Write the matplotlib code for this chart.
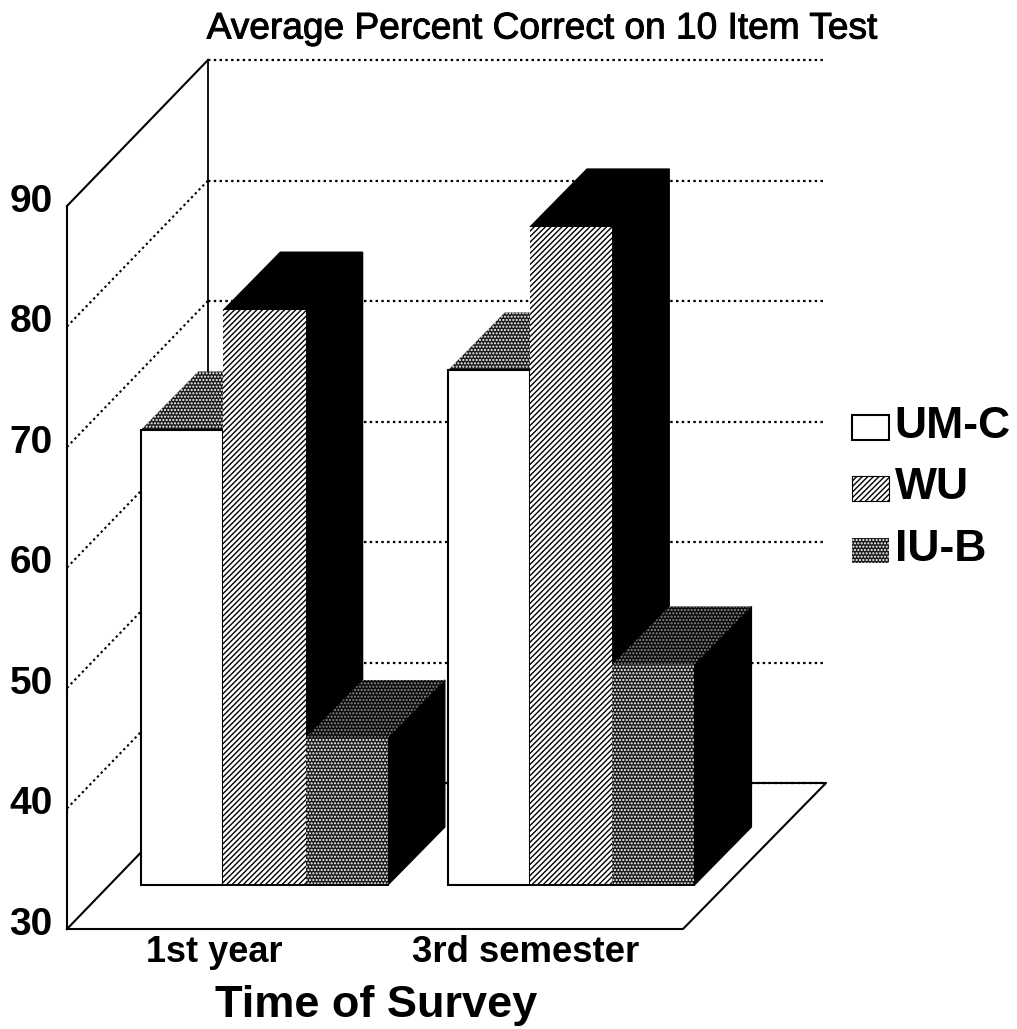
import matplotlib
matplotlib.use("Agg")
import matplotlib.pyplot as plt
from matplotlib.patches import Polygon, Patch, Rectangle
from matplotlib.legend_handler import HandlerPatch
import matplotlib.patheffects as pe

plt.rcParams['font.family'] = ['Liberation Sans', 'DejaVu Sans']
plt.rcParams['hatch.linewidth'] = 1.0

title = "Average Percent Correct on 10 Item Test"
xlabel = "Time of Survey"
categories = ["1st year", "3rd semester"]
series_names = ["UM-C", "WU", "IU-B"]
um_c = [67.8, 72.7]
wu = [77.7, 84.6]
iu_b = [42.2, 48.3]
y_ticks = [30, 40, 50, 60, 70, 80, 90]

# scales: 82.2 px per bar width, 12.05 px per percentage point
W, H = 1017, 1029
PX = 82.2
PY = 12.05
X0 = 264.5
YP0 = 929
fig = plt.figure(figsize=(W / 100, H / 100), dpi=100)
ax = fig.add_axes([0, 0, 1, 1])
ax.set_xlim(-X0 / PX, (W - X0) / PX)
ax.set_ylim(30 - (H - YP0) / PY, 30 + YP0 / PY)
ax.axis('off')

group_x = [0, 3.73]
bar_offset = [-1, 0, 1]

def xpx(px):
    return (px - X0) / PX

# depth of the box and of the bars, in data units
wall_x = xpx(67)
box_dx = 141 / PX
box_dy = 146 / PY
grid_end = xpx(824)
floor_right = xpx(683)
lift = 44 / PY
bar_dx = 57 / PX
bar_dy = 58 / PY

dot = (0, (1.1, 1.5))
for v in y_ticks:
    ls = '-' if v in (30, 90) else dot
    ax.plot([wall_x, wall_x + box_dx], [v, v + box_dy], color='k', lw=1.5, ls=ls, zorder=1)
    ax.plot([wall_x + box_dx, grid_end], [v + box_dy, v + box_dy], color='k', lw=1.6, ls=dot, zorder=1)
ax.plot([wall_x, wall_x], [30, 90], color='k', lw=1.5, zorder=1)
ax.plot([wall_x + box_dx, wall_x + box_dx], [30 + box_dy, 90 + box_dy], color='k', lw=1.3, zorder=1)
ax.plot([wall_x, floor_right, xpx(826), wall_x + box_dx],
        [30, 30, 30 + box_dy, 30 + box_dy], color='k', lw=1.5, zorder=1)

DOTS = dict(facecolor='#1c1c1c', edgecolor='white', linewidth=0, hatch='.....')
LINES = '//////'
front_style = [
    dict(facecolor='white', edgecolor='k', linewidth=1.5),
    dict(facecolor='white', edgecolor='k', linewidth=0, hatch=LINES),
    DOTS,
]
top_style = [
    DOTS,
    dict(facecolor='k', edgecolor='k', linewidth=1),
    dict(facecolor='#0a0a0a', edgecolor='#909090', linewidth=0, hatch='.....'),
]
z = 2
values = [um_c, wu, iu_b]
for g, gx in enumerate(group_x):
    for s in range(3):
        x = gx + bar_offset[s]
        l, r = x - 0.5, x + 0.5
        v = values[s][g]
        b = 30 + lift
        t = v + lift
        # side face
        ax.add_patch(Polygon([(r, b), (r + bar_dx, b + bar_dy), (r + bar_dx, t + bar_dy), (r, t)],
                             facecolor='k', edgecolor='k', lw=1, zorder=z))
        # top face
        ax.add_patch(Polygon([(l, t), (l + bar_dx, t + bar_dy), (r + bar_dx, t + bar_dy), (r, t)],
                             zorder=z + 1, **top_style[s]))
        # front face
        ax.bar(x, v - 30, width=1, bottom=b, align='center', zorder=z + 2, **front_style[s])
        if s == 0:
            ax.plot([l, l, r, r, l], [b, t, t, b, b], color='k', lw=1.4, zorder=z + 3)
        else:
            ax.plot([l, r], [b, b], color='k', lw=1.4, zorder=z + 3)
        z += 4

bold = [pe.withStroke(linewidth=0.7, foreground='k')]
for v in y_ticks:
    ax.text(xpx(31), v + 0.35, str(v), ha='center', va='center', fontsize=28, fontweight='bold')

ax.text(xpx(543), 30 + (929 - 29) / PY, title, ha='center', va='center', fontsize=26.7, path_effects=bold)
ax.text(xpx(214.5), 30 - (953 - 929) / PY, categories[0], ha='center', va='center', fontsize=26, fontweight='bold')
ax.text(xpx(526), 30 - (953 - 929) / PY, categories[1], ha='center', va='center', fontsize=26.3, fontweight='bold')
ax.text(xpx(376), 30 - (1005 - 929) / PY, xlabel, ha='center', va='center', fontsize=32.5, fontweight='bold')


def low_box(legend, orig_handle, xdescent, ydescent, width, height, fontsize):
    return Rectangle((-xdescent, -1.5), 26.6, 18)


handles = [
    Patch(facecolor='white', edgecolor='k', linewidth=1.5),
    Patch(facecolor='white', edgecolor='k', linewidth=0.8, hatch=LINES),
    Patch(**DOTS),
]
leg = ax.legend(handles, series_names, loc='upper left', bbox_to_anchor=(852 / W, 1 - 406 / H),
                bbox_transform=fig.transFigure, frameon=False, borderpad=0, borderaxespad=0,
                handlelength=0.83, handleheight=0.56, handletextpad=0.13, labelspacing=0.456,
                prop=dict(weight='bold', size=32),
                handler_map={Patch: HandlerPatch(patch_func=low_box)})

fig.savefig("out.png", dpi=100)
